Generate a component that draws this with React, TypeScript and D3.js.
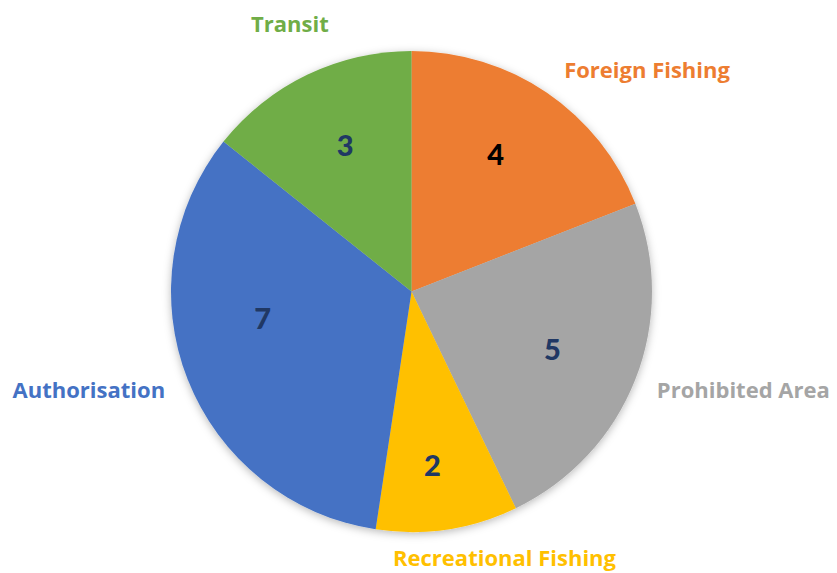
import * as d3 from "d3";

const categories = ["Foreign Fishing", "Prohibited Area", "Recreational Fishing", "Authorisation", "Transit"];
const values = [4, 5, 2, 7, 3];
const sliceColors = ["#ED7D31", "#A5A5A5", "#FFC000", "#4472C4", "#70AD47"];
const valueColors = ["#000000", "#203864", "#203864", "#203864", "#203864"];

// Excel "best fit" placement, nudged from the computed anchor points
const outerLabelLayout = [
  { anchor: "start", dx: 9, dy: -3 },
  { anchor: "start", dx: 8, dy: 13 },
  { anchor: "middle", dx: 55, dy: 22 },
  { anchor: "end", dx: -9, dy: 13 },
  { anchor: "middle", dx: -11, dy: -30 },
];
const innerLabelNudge = [
  [-6, -5],
  [-8, 0],
  [-3, 16],
  [0, -31],
  [3, -2],
];

const W = 837;
const H = 573;
const cx = 411.5;
const cy = 291.5;
const R = 240.5;
const LABEL_FONT = "'Open Sans', sans-serif";
const VALUE_FONT = "Lato, 'Open Sans', sans-serif";

export default function App() {
  const rows = categories.map((c, i) => ({ name: c, value: values[i], i }));
  const pie = d3
    .pie<any>()
    .sort(null)
    .value((d) => d.value);
  const arcs = pie(rows);
  const arc = d3.arc<any>().innerRadius(0).outerRadius(R);
  const valueArc = d3.arc<any>().innerRadius(160).outerRadius(160);
  const nameArc = d3.arc<any>().innerRadius(255).outerRadius(255);

  return (
    <svg
      width={W}
      height={H}
      style={{ position: "absolute", left: 0, top: 0, background: "#fff" }}
    >
      <defs>
        <filter id="pieShadow" x="-10%" y="-10%" width="120%" height="120%">
          <feDropShadow dx="0" dy="2" stdDeviation="4" floodColor="#000" floodOpacity="0.28" />
        </filter>
      </defs>
      <g transform={`translate(${cx},${cy})`}>
        <g filter="url(#pieShadow)">
          {arcs.map((a) => (
            <path key={a.data.name} d={arc(a) as string} fill={sliceColors[a.data.i]} />
          ))}
        </g>
        {arcs.map((a) => {
          const [x, y] = valueArc.centroid(a);
          const [nx, ny] = innerLabelNudge[a.data.i];
          return (
            <text
              key={"v" + a.data.name}
              x={x + nx}
              y={y + ny}
              dy="0.36em"
              textAnchor="middle"
              fontFamily={VALUE_FONT}
              fontWeight={900}
              fontSize={29}
              fill={valueColors[a.data.i]}
            >
              {a.data.value}
            </text>
          );
        })}
        {arcs.map((a) => {
          const [x, y] = nameArc.centroid(a);
          const l = outerLabelLayout[a.data.i];
          return (
            <text
              key={"n" + a.data.name}
              x={x + l.dx}
              y={y + l.dy}
              textAnchor={l.anchor}
              fontFamily={LABEL_FONT}
              fontWeight={700}
              fontSize={22}
              fill={sliceColors[a.data.i]}
            >
              {a.data.name}
            </text>
          );
        })}
      </g>
    </svg>
  );
}
